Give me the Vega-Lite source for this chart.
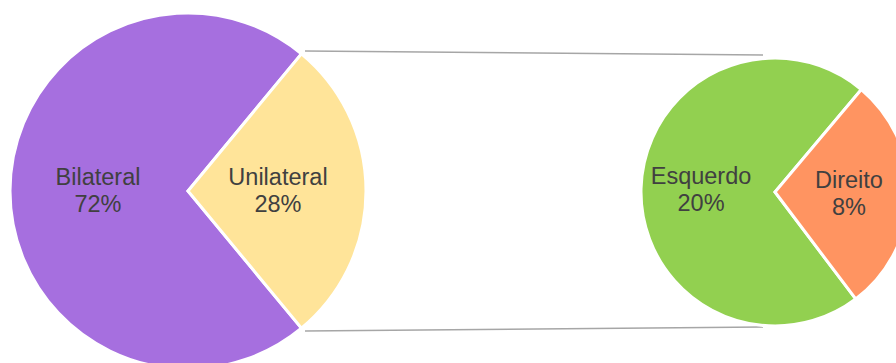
{
  "$schema": "https://vega.github.io/schema/vega-lite/v6.json",
  "width": 896,
  "height": 363,
  "padding": 0,
  "autosize": {"type": "none"},
  "background": "white",
  "config": {"view": {"stroke": null}},
  "datasets": {
    "main": [
      {"cat": "Bilateral", "value": 72},
      {"cat": "Unilateral", "value": 28}
    ],
    "detail": [
      {"cat": "Esquerdo", "value": 20},
      {"cat": "Direito", "value": 8}
    ]
  },
  "layer": [
    {
      "data": {"values": [{}]},
      "mark": {"type": "rule", "color": "#a6a6a6", "strokeWidth": 1.5},
      "encoding": {
        "x": {"datum": 305, "type": "quantitative", "scale": {"domain": [0, 896], "nice": false, "zero": false}, "axis": null},
        "y": {"datum": 51, "type": "quantitative", "scale": {"domain": [0, 363], "nice": false, "zero": false, "reverse": true}, "axis": null},
        "x2": {"datum": 763},
        "y2": {"datum": 55}
      }
    },
    {
      "data": {"values": [{}]},
      "mark": {"type": "rule", "color": "#a6a6a6", "strokeWidth": 1.5},
      "encoding": {
        "x": {"datum": 305, "type": "quantitative", "scale": {"domain": [0, 896], "nice": false, "zero": false}, "axis": null},
        "y": {"datum": 331, "type": "quantitative", "scale": {"domain": [0, 363], "nice": false, "zero": false, "reverse": true}, "axis": null},
        "x2": {"datum": 763},
        "y2": {"datum": 327}
      }
    },
    {
      "data": {"name": "main"},
      "layer": [
        {
          "mark": {"type": "arc", "outerRadius": 178, "stroke": "white", "strokeWidth": 3},
          "encoding": {
            "theta": {"field": "value", "type": "quantitative", "stack": true, "scale": {"range": [0.6912, 6.9744]}},
            "order": {"field": "value", "sort": "ascending"},
            "color": {"field": "cat", "type": "nominal", "legend": null,
              "scale": {"domain": ["Bilateral", "Unilateral", "Esquerdo", "Direito"], "range": ["#a66fdf", "#ffe499", "#92d050", "#ff9461"]}},
            "x": {"datum": 188, "type": "quantitative", "scale": {"domain": [0, 896], "nice": false, "zero": false}, "axis": null},
            "y": {"datum": 191, "type": "quantitative", "scale": {"domain": [0, 363], "nice": false, "zero": false, "reverse": true}, "axis": null}
          }
        },
        {
          "transform": [{"calculate": "[datum.cat, datum.value + '%']", "as": "txt"}],
          "mark": {"type": "text", "radius": 90, "dy": -13, "fontSize": 23.5, "font": "Liberation Sans", "color": "#404040", "lineHeight": 27, "baseline": "middle", "align": "center"},
          "encoding": {
            "theta": {"field": "value", "type": "quantitative", "stack": true, "scale": {"range": [0.6912, 6.9744]}},
            "order": {"field": "value", "sort": "ascending"},
            "text": {"field": "txt"},
            "x": {"datum": 188, "type": "quantitative", "scale": {"domain": [0, 896], "nice": false, "zero": false}, "axis": null},
            "y": {"datum": 191, "type": "quantitative", "scale": {"domain": [0, 363], "nice": false, "zero": false, "reverse": true}, "axis": null}
          }
        }
      ]
    },
    {
      "data": {"name": "detail"},
      "layer": [
        {
          "mark": {"type": "arc", "outerRadius": 134, "stroke": "white", "strokeWidth": 3},
          "encoding": {
            "theta": {"field": "value", "type": "quantitative", "stack": true, "scale": {"range": [0.7, 6.9832]}},
            "order": {"field": "value", "sort": "ascending"},
            "color": {"field": "cat", "type": "nominal", "legend": null,
              "scale": {"domain": ["Bilateral", "Unilateral", "Esquerdo", "Direito"], "range": ["#a66fdf", "#ffe499", "#92d050", "#ff9461"]}},
            "x": {"datum": 775, "type": "quantitative", "scale": {"domain": [0, 896], "nice": false, "zero": false}, "axis": null},
            "y": {"datum": 192, "type": "quantitative", "scale": {"domain": [0, 363], "nice": false, "zero": false, "reverse": true}, "axis": null}
          }
        },
        {
          "transform": [{"calculate": "[datum.cat, datum.value + '%']", "as": "txt"}],
          "mark": {"type": "text", "radius": 74, "dy": -13, "fontSize": 23.5, "font": "Liberation Sans", "color": "#404040", "lineHeight": 27, "baseline": "middle", "align": "center"},
          "encoding": {
            "theta": {"field": "value", "type": "quantitative", "stack": true, "scale": {"range": [0.7, 6.9832]}},
            "order": {"field": "value", "sort": "ascending"},
            "text": {"field": "txt"},
            "x": {"datum": 775, "type": "quantitative", "scale": {"domain": [0, 896], "nice": false, "zero": false}, "axis": null},
            "y": {"datum": 192, "type": "quantitative", "scale": {"domain": [0, 363], "nice": false, "zero": false, "reverse": true}, "axis": null}
          }
        }
      ]
    }
  ],
  "resolve": {"scale": {"theta": "independent"}}
}
